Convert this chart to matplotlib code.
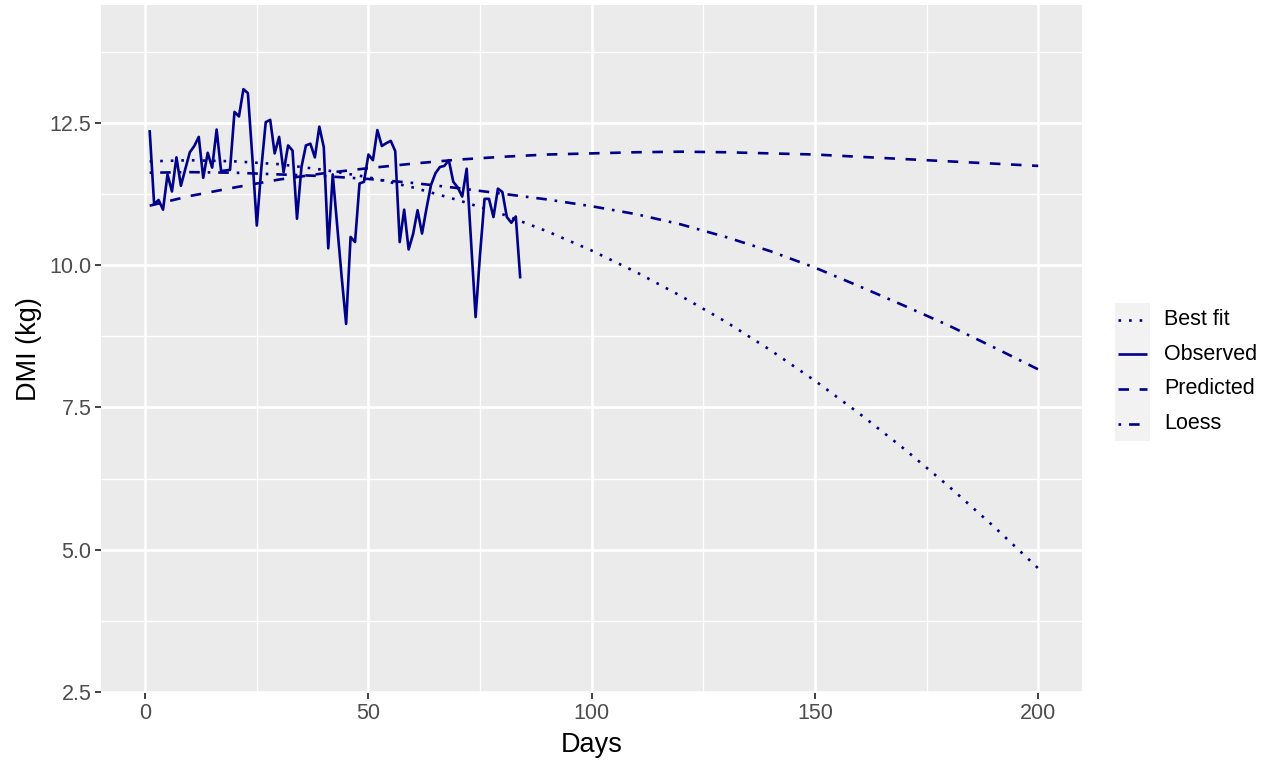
"""DMI (kg) over days: observed intake against three fitted curves, ggplot-grey style."""

import matplotlib

matplotlib.use("Agg")
import matplotlib.pyplot as plt
from matplotlib.lines import Line2D
from matplotlib.patches import Rectangle

plt.rcParams["font.family"] = ["Liberation Sans", "DejaVu Sans"]

# Observed daily intake, days 1..84.
obs_days = list(range(1, 85))
obs_dmi = [
    12.38, 11.08, 11.15, 10.98, 11.60, 11.30, 11.90, 11.40, 11.70, 11.99,
    12.10, 12.26, 11.54, 11.98, 11.72, 12.39, 11.66, 11.67, 11.68, 12.70,
    12.62, 13.10, 13.03, 11.90, 10.70, 11.70, 12.52, 12.56, 11.97, 12.26,
    11.64, 12.11, 12.02, 10.82, 11.73, 12.11, 12.14, 11.90, 12.44, 12.08,
    10.30, 11.60, 10.70, 9.80, 8.97, 10.50, 10.41, 11.44, 11.47, 11.95,
    11.85, 12.38, 12.10, 12.15, 12.19, 12.01, 10.41, 10.98, 10.28, 10.55,
    10.97, 10.56, 11.00, 11.41, 11.62, 11.73, 11.75, 11.85, 11.47, 11.37,
    11.21, 11.70, 10.40, 9.09, 10.20, 11.17, 11.17, 10.85, 11.35, 11.29,
    10.85, 10.75, 10.86, 9.77,
]

# Fitted curves, read at day 1 and every 10 days to 200.
curve_days = [1, 10, 20, 30, 40, 50, 60, 70, 80, 90, 100,
              110, 120, 130, 140, 150, 160, 170, 180, 190, 200]
best_fit = [11.83, 11.85, 11.83, 11.78, 11.68, 11.55, 11.37, 11.15, 10.90, 10.60, 10.26,
            9.88, 9.46, 9.01, 8.51, 7.97, 7.39, 6.77, 6.11, 5.41, 4.67]
predicted = [11.05, 11.22, 11.37, 11.51, 11.62, 11.71, 11.79, 11.86, 11.91, 11.95, 11.97,
             11.99, 12.00, 11.99, 11.97, 11.95, 11.91, 11.87, 11.83, 11.79, 11.75]
loess = [11.63, 11.64, 11.63, 11.60, 11.57, 11.52, 11.45, 11.36, 11.26, 11.16, 11.04,
         10.90, 10.72, 10.50, 10.25, 9.96, 9.63, 9.29, 8.94, 8.56, 8.17]

x_ticks = [0, 50, 100, 150, 200]
y_ticks = [2.5, 5.0, 7.5, 10.0, 12.5]
y_tick_labels = ["2.5", "5.0", "7.5", "10.0", "12.5"]

LINE_COLOR = "#00008B"
LW = 1.9
STYLES = {
    "Best fit": (0, (1, 3)),
    "Observed": "-",
    "Predicted": (0, (4, 4)),
    "Loess": (0, (1, 3, 4, 3)),
}

fig = plt.figure(figsize=(12.75, 7.63), dpi=100)
ax = fig.add_axes([0.0792, 0.092, 0.7694, 0.9014])
ax.set_facecolor("#EBEBEB")

# grid: major white lines, minor thinner at the midpoints
for x in [25, 75, 125, 175]:
    ax.axvline(x, color="white", lw=0.95, zorder=0)
for y in [3.75, 6.25, 8.75, 11.25, 13.75]:
    ax.axhline(y, color="white", lw=0.95, zorder=0)
for x in x_ticks:
    ax.axvline(x, color="white", lw=1.9, zorder=0)
for y in y_ticks:
    ax.axhline(y, color="white", lw=1.9, zorder=0)

common = dict(color=LINE_COLOR, lw=LW, solid_capstyle="butt", dash_capstyle="butt")
ax.plot(curve_days, best_fit, linestyle=STYLES["Best fit"], **common)
ax.plot(obs_days, obs_dmi, linestyle=STYLES["Observed"], solid_joinstyle="round", **common)
ax.plot(curve_days, predicted, linestyle=STYLES["Predicted"], **common)
ax.plot(curve_days, loess, linestyle=STYLES["Loess"], **common)

ax.set_xlim(-9.9, 209.8)
ax.set_ylim(2.48, 14.58)
ax.set_xticks(x_ticks)
ax.set_xticklabels([str(v) for v in x_ticks])
ax.set_yticks(y_ticks)
ax.set_yticklabels(y_tick_labels)
ax.tick_params(axis="both", length=4, width=1.3, color="#333333",
               labelcolor="#4D4D4D", labelsize=15.5, pad=3)
for spine in ax.spines.values():
    spine.set_visible(False)

ax.set_xlabel("Days", fontsize=19.5, labelpad=6)
ax.set_ylabel("DMI (kg)", fontsize=19.5, labelpad=5)

# legend drawn by hand: grey key column, line samples, labels
W, H = fig.get_size_inches() * fig.dpi
key_left, key_right = 1115, 1150
key_top, key_step = 302.5, 34.6
fig.patches.append(Rectangle((key_left / W, 1 - (key_top + 4 * key_step) / H),
                             (key_right - key_left) / W, 4 * key_step / H,
                             transform=fig.transFigure, facecolor="#F2F2F2",
                             edgecolor="none", zorder=1))
for i, (label, style) in enumerate(STYLES.items()):
    yc = 1 - (key_top + (i + 0.5) * key_step) / H
    fig.add_artist(Line2D([(key_left + 3) / W, (key_right - 3) / W], [yc, yc],
                          transform=fig.transFigure, linestyle=style, zorder=2, **common))
    fig.text(1164 / W, yc, label, fontsize=15.5, color="black", va="center", ha="left")

fig.savefig("out.png", dpi=100, facecolor="white")
